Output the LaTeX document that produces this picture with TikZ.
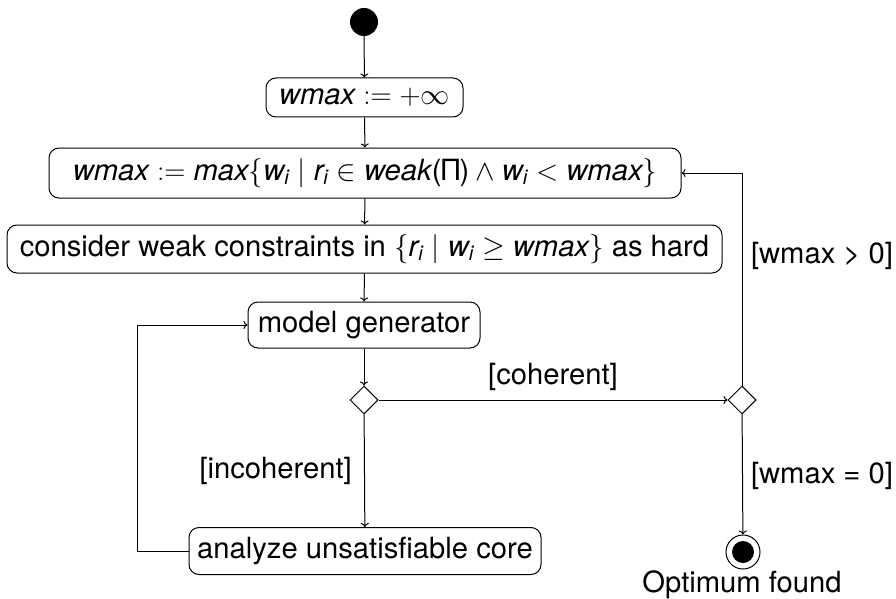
\RequirePackage{fix-cm}
\documentclass[tikz,border=0pt]{standalone}
\usepackage{amsmath}
\usepackage{fontspec}
\setmainfont{TeX Gyre Heros}
\usetikzlibrary{shapes.geometric,arrows.meta}
\newcommand{\iv}[1]{\text{\itshape #1}}
\begin{document}
\begin{tikzpicture}[x=1pt,y=-1pt,
  every node/.style={font=\fontsize{29.2}{34}\selectfont},
  act/.style={draw,rounded corners=10pt,line width=1pt,inner sep=2pt,align=center},
  dec/.style={draw,diamond,aspect=1,minimum size=28pt,inner sep=0pt,line width=1pt},
  flow/.style={line width=1pt,-{To[length=4pt,width=8pt]}},
  lbl/.style={inner sep=0pt}]
\useasboundingbox (0,0) rectangle (896,599);
\node[circle,fill=black,minimum size=28pt,inner sep=0pt] (start) at (364,22) {};
\node[act,minimum width=197pt,minimum height=39pt] (b1) at (364.5,97.5) {\iv{wmax} $:= +\infty$};
\node[act,minimum width=632pt,minimum height=50pt] (b2) at (365,173)
  {$\iv{wmax} := \iv{max}\{\iv{w}_{\iv{i}} \mid \iv{r}_{\iv{i}} \in \iv{weak}\text{(Π)} \wedge \iv{w}_{\iv{i}} < \iv{wmax}\}$};
\node[act,minimum width=715pt,minimum height=48pt] (b3) at (364.5,249)
  {consider weak constraints in $\{\iv{r}_{\iv{i}} \mid \iv{w}_{\iv{i}} \geq \iv{wmax}\}$ as hard};
\node[act,minimum width=232pt,minimum height=46pt] (mg) at (364,325) {model generator};
\node[dec] (d1) at (364,400) {};
\node[dec] (d2) at (742,400) {};
\node[act,minimum width=352pt,minimum height=47pt] (an) at (365,551) {analyze unsatisfiable core};
\node[circle,draw,line width=1pt,minimum size=34pt,inner sep=0pt] (end) at (743,552) {};
\node[circle,fill=black,minimum size=22pt,inner sep=0pt] (endin) at (743,552) {};
\coordinate (loopL) at (137,0);
\coordinate (loopR) at (742,0);
\draw[flow] (start) -- (b1);
\draw[flow] (b1) -- (b2);
\draw[flow] (b2) -- (b3);
\draw[flow] (b3) -- (mg);
\draw[flow] (mg) -- (d1);
\draw[flow] (d1) -- (d2);
\draw[flow] (d1) -- (an);
\draw[flow] (an.west) -| (loopL |- mg) -- (mg.west);
\draw[flow] (d2) -- (loopR |- b2) -- (b2.east);
\draw[flow] (d2) -- (end);
\node[lbl] (lcoh) at (553,377) {[coherent]};
\node[lbl,anchor=east] (linc) at (352,471) {[incoherent]};
\node[lbl] (lgt) at (822,256) {[wmax > 0]};
\node[lbl] (leq) at (822,476) {[wmax = 0]};
\node[lbl] (lopt) at (742,585) {Optimum found};
\end{tikzpicture}
\end{document}
